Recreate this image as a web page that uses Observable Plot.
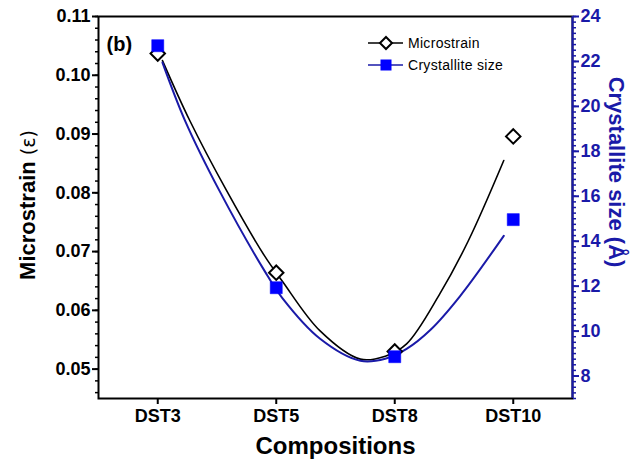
<!DOCTYPE html>
<html><head><meta charset="utf-8">
<script src="https://cdn.jsdelivr.net/npm/d3@7"></script>
<script src="https://cdn.jsdelivr.net/npm/@observablehq/plot@0.6"></script>
<style>
body{margin:0;background:#fff;}
#wrap{position:relative;width:635px;height:467px;font-family:"Liberation Sans",Arial,sans-serif;}
#legend{position:absolute;left:362px;top:32px;}
</style></head><body><div id="wrap"></div>
<script>
// ---- data ----
const categories = ["DST3","DST5","DST8","DST10"];
const microstrain = [0.1037, 0.0664, 0.0530, 0.0896];
const crystallite = [22.70, 11.93, 8.86, 14.96];
// fitted curves (position along the category axis, value)
const microFitX = [0.04, 0.27, 0.58, 0.90, 1.05, 1.37, 1.71, 1.92, 2.10, 2.38, 2.62, 2.92];
const microFitY = [0.1025, 0.0923, 0.0804, 0.0693, 0.0650, 0.0565, 0.0517, 0.0522, 0.0543, 0.0628, 0.0718, 0.0855];
const crystFitX = [0.04, 0.23, 0.52, 0.90, 1.05, 1.37, 1.71, 1.92, 2.10, 2.30, 2.55, 2.92];
const crystFitY = [21.95, 19.37, 16.25, 12.69, 11.48, 9.66, 8.68, 8.77, 9.21, 10.05, 11.55, 14.24];
const leftTicks = [0.05, 0.06, 0.07, 0.08, 0.09, 0.10, 0.11];
const rightTicks = [8, 10, 12, 14, 16, 18, 20, 22, 24];
const leftDomain = [0.045, 0.11];
const rightDomain = [7, 24];

// ---- helpers ----
const toLeft = r => leftDomain[0] + (r - rightDomain[0]) * (leftDomain[1] - leftDomain[0]) / (rightDomain[1] - rightDomain[0]);
const fromLeft = v => rightDomain[0] + (v - leftDomain[0]) * (rightDomain[1] - rightDomain[0]) / (leftDomain[1] - leftDomain[0]);
const idx = categories.map((_, i) => i);
const microFit = microFitX.map((x, i) => ({x, y: microFitY[i]}));
const crystFit = crystFitX.map((x, i) => ({x, y: toLeft(crystFitY[i])}));
const leftMinor = d3.range(0.046, 0.1101, 0.002);
const rightMinor = d3.range(7, 24.001, 0.25);
const BLUE = "#1a1aa8";

const chart = Plot.plot({
  width: 635, height: 467,
  marginLeft: 98, marginRight: 63, marginTop: 16, marginBottom: 69,
  style: {fontFamily: '"Liberation Sans", Arial, sans-serif', fontSize: "18px", fontWeight: "bold", background: "#fff", color: "#000"},
  x: {type: "linear", domain: [-0.5, 3.5]},
  y: {domain: leftDomain},
  marks: [
    Plot.frame({stroke: "#000", strokeWidth: 2}),
    Plot.ruleX([3.5], {stroke: BLUE, strokeWidth: 2}),
    // left axis
    Plot.axisY(leftMinor, {anchor: "left", tickSize: 3, text: null, strokeWidth: 1.5, label: null}),
    Plot.axisY(leftTicks, {anchor: "left", tickSize: 6, tickPadding: 2, strokeWidth: 2, tickFormat: d3.format(".2f"), label: null}),
    // right axis
    Plot.axisY(rightMinor.map(toLeft), {anchor: "right", tickSize: 3, text: null, stroke: BLUE, strokeWidth: 1.5, label: null}),
    Plot.axisY(rightTicks.map(toLeft), {anchor: "right", tickSize: 6, tickPadding: 2, stroke: BLUE, fill: BLUE, strokeWidth: 2, tickFormat: d => String(Math.round(fromLeft(d))), label: null}),
    // x axis
    Plot.axisX(idx, {anchor: "bottom", tickSize: 6, tickPadding: 5, strokeWidth: 2, tickFormat: i => categories[i], label: null, fontSize: 18}),
    // fitted curves
    Plot.line(microFit, {x: "x", y: "y", curve: "catmull-rom", stroke: "#000", strokeWidth: 1.6}),
    Plot.line(crystFit, {x: "x", y: "y", curve: "catmull-rom", stroke: BLUE, strokeWidth: 2}),
    // markers
    Plot.dot(idx, {x: i => i, y: i => microstrain[i], symbol: "diamond2", r: 6.5, fill: "#fff", stroke: "#000", strokeWidth: 2}),
    Plot.dot(idx, {x: i => i, y: i => toLeft(crystallite[i]), symbol: "square", r: 6.8, fill: "#0000ff", stroke: "#0000ff", strokeWidth: 0.5}),
    // texts
    Plot.text(["(b)"], {frameAnchor: "top-left", dx: 8, dy: 20, fontSize: 20, fontWeight: "bold", textAnchor: "start"}),
    Plot.text(["Compositions"], {frameAnchor: "bottom", dy: 55, fontSize: 24, fontWeight: "bold"})
  ]
});
const wrap = document.getElementById("wrap");
wrap.appendChild(chart);

// rotated axis titles
const svg = d3.select(chart);
const lt = svg.append("text")
  .attr("transform", "translate(27,205) rotate(-90)")
  .attr("text-anchor", "middle").attr("dy", "0.35em")
  .attr("font-size", 22).attr("font-weight", "bold").attr("fill", "#000");
lt.append("tspan").text("Microstrain ");
lt.append("tspan").attr("font-weight", "normal").attr("font-family", '"DejaVu Sans", sans-serif').attr("font-size", 19).text("(ε)");
svg.append("text")
  .attr("transform", "translate(617,172) rotate(90)")
  .attr("text-anchor", "middle").attr("dy", "0.35em")
  .attr("font-size", 22).attr("font-weight", "bold").attr("fill", BLUE)
  .text("Crystallite size (Å)");

// legend overlay
const legend = document.createElement("div");
legend.id = "legend";
legend.innerHTML = `<svg width="170" height="50" style="font-family:'Liberation Sans',Arial,sans-serif;font-size:14px">
  <line x1="6" y1="11" x2="41" y2="11" stroke="#000" stroke-width="1.6"/>
  <path d="M24,5 L30,11 L24,17 L18,11 Z" fill="#fff" stroke="#000" stroke-width="2"/>
  <text x="46" y="16" fill="#000" letter-spacing="0.3">Microstrain</text>
  <line x1="6" y1="33" x2="41" y2="33" stroke="${BLUE}" stroke-width="1.6"/>
  <rect x="18.5" y="27.5" width="11" height="11" fill="#0000ff"/>
  <text x="46" y="38" fill="#000" letter-spacing="0.3">Crystallite size</text>
</svg>`;
wrap.appendChild(legend);
</script></body></html>
